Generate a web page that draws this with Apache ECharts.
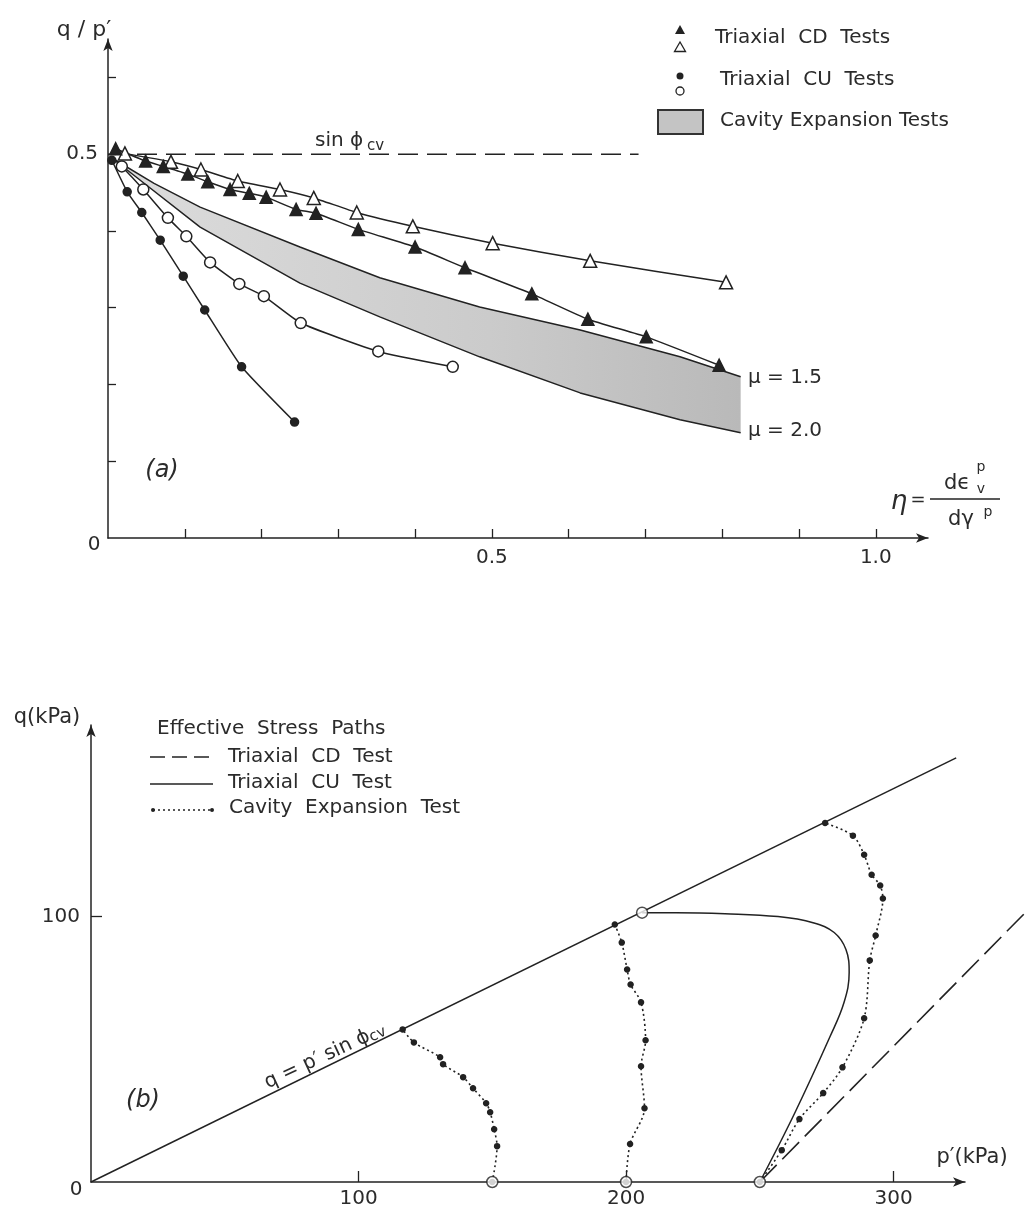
<!DOCTYPE html>
<html>
<head>
<meta charset="utf-8">
<script src="https://cdn.jsdelivr.net/npm/echarts@6/dist/echarts.min.js"></script>
<style>
html,body{margin:0;padding:0;background:#fff;}
#chart{width:1029px;height:1209px;}
</style>
</head>
<body>
<div id="chart"></div>
<script>
// ---------- (a) q/p' versus eta ----------
const cdOpen = [[0.022,0.501],[0.082,0.490],[0.121,0.480],[0.169,0.465],[0.224,0.454],[0.268,0.443],[0.324,0.424],[0.397,0.406],[0.501,0.384],[0.628,0.361],[0.805,0.333]];
const cdFilled = [[0.010,0.507],[0.049,0.491],[0.072,0.484],[0.104,0.474],[0.130,0.464],[0.159,0.454],[0.184,0.449],[0.206,0.444],[0.245,0.428],[0.271,0.423],[0.326,0.402],[0.400,0.379],[0.465,0.352],[0.552,0.318],[0.625,0.285],[0.701,0.262],[0.796,0.225]];
const cuOpenStart = [0.004,0.497];
const cuOpen = [[0.018,0.484],[0.046,0.454],[0.078,0.417],[0.102,0.393],[0.133,0.359],[0.171,0.331],[0.203,0.315],[0.251,0.280],[0.352,0.243],[0.449,0.223]];
const cuFilled = [[0.005,0.492],[0.025,0.451],[0.044,0.424],[0.068,0.388],[0.098,0.341],[0.126,0.297],[0.174,0.223],[0.243,0.151]];
const bandMu15 = [[0.005,0.495],[0.060,0.462],[0.120,0.431],[0.250,0.379],[0.354,0.339],[0.484,0.301],[0.615,0.271],[0.745,0.236],[0.824,0.210]];
const bandMu20 = [[0.005,0.495],[0.042,0.466],[0.120,0.405],[0.250,0.332],[0.354,0.288],[0.484,0.236],[0.615,0.189],[0.745,0.154],[0.824,0.137]];
const sinPhiCv = [[0,0.5],[0.691,0.5]];
const topXTicks = [0.1,0.2,0.3,0.4,0.5,0.6,0.7,0.8,0.9,1.0];
const topXLabels = [0.5,1.0];
const topYTicks = [0.1,0.2,0.3,0.4,0.5,0.6];
const topYLabels = [0.5];

// ---------- (b) effective stress paths ----------
const failureLine = [[0,0],[323.4,159.8]];
const cdPath = [[250,0],[350.7,103]];
const cuPath = [[250,0],[263.2,26.3],[276.3,54.9],[281.5,67.7],[283.4,78.9],[282.2,87.6],[277.8,94.0],[269.9,97.7],[256.8,100.0],[237.0,101.1],[218.7,101.5],[206.0,101.5]];
const cavity150 = [[150,0],[151.8,13.5],[150.7,19.9],[149.2,26.3],[147.7,29.7],[142.8,35.3],[139.1,39.5],[131.6,44.4],[130.5,47.0],[120.7,52.6],[116.5,57.5]];
const cavity200 = [[200,0],[201.5,14.3],[206.9,27.8],[205.6,43.6],[207.3,53.4],[205.6,67.7],[201.7,74.4],[200.4,80.1],[198.4,90.2],[195.8,97.0]];
const cavity250 = [[250,0],[258.2,12.0],[264.8,23.7],[273.7,33.5],[280.9,43.2],[289.0,61.7],[291.1,83.5],[293.3,92.9],[296.0,106.8],[295.0,111.7],[291.8,115.8],[289.0,123.3],[284.8,130.5],[274.4,135.3]];
const openCircles = [[150,0],[200,0],[250,0],[206.0,101.5]];
const botXTicks = [100,200,300];
const botXLabels = [100,200,300];
const botYTicks = [100];
const botYLabels = [100];

const INK = '#222';
const TXT = '#2b2b2b';
const FONT = '"DejaVu Sans", sans-serif';

const chart = echarts.init(document.getElementById('chart'), null, {renderer:'canvas'});

function axisBase(extra){
  return Object.assign({
    type:'value', min:0,
    splitLine:{show:false},
    axisLine:{show:true, onZero:false, symbol:['none','arrow'], symbolSize:[7,12], lineStyle:{color:INK, width:1.5}},
    axisTick:{show:true, inside:true, length:9, lineStyle:{color:INK, width:1.3}},
    axisLabel:{color:TXT, fontFamily:FONT, fontSize:20}
  }, extra);
}

function lineSeries(data, ax, sym, size, filled, extra){
  return Object.assign({
    type:'line', xAxisIndex:ax, yAxisIndex:ax, data:data,
    symbol:sym, symbolSize:size, showSymbol:true, smooth:0.15,
    lineStyle:{color:INK, width:1.5},
    itemStyle:{color: filled ? INK : '#fff', borderColor:INK, borderWidth:1.5},
    z:5, animation:false, silent:true
  }, extra||{});
}

const band = {
  type:'custom', xAxisIndex:0, yAxisIndex:0, data:[[0,0]], z:2, silent:true, animation:false,
  renderItem:function(params, api){
    const pts = bandMu15.map(p=>api.coord(p)).concat(bandMu20.slice().reverse().map(p=>api.coord(p)));
    return {type:'polygon', shape:{points:pts},
      style:{fill:{type:'linear',x:0,y:0,x2:1,y2:0,colorStops:[{offset:0,color:'#dcdcdc'},{offset:0.6,color:'#cbcbcb'},{offset:1,color:'#b9b9b9'}]}, stroke:null}};
  }
};

const cdDashed = {
  type:'custom', xAxisIndex:1, yAxisIndex:1, data:[[0,0]], z:4, clip:false, silent:true, animation:false,
  renderItem:function(params, api){
    return {type:'polyline', shape:{points:cdPath.map(p=>api.coord(p))},
      style:{stroke:INK, lineWidth:1.6, lineDash:[24,8], fill:null}};
  }
};

const option = {
  animation:false,
  grid:[
    {left:108, top:39, width:820, height:499},
    {left:91, top:725, width:874, height:458}
  ],
  xAxis:[
    axisBase({gridIndex:0, max:1.068,
      axisTick:{show:true, inside:true, length:9, customValues:topXTicks, lineStyle:{color:INK,width:1.3}},
      axisLabel:{color:TXT, fontFamily:FONT, fontSize:20, margin:10, customValues:topXLabels, formatter:v=>v.toFixed(1)}}),
    axisBase({gridIndex:1, max:326.7,
      axisTick:{show:true, inside:true, length:11, customValues:botXTicks, lineStyle:{color:INK,width:1.3}},
      axisLabel:{color:TXT, fontFamily:FONT, fontSize:20, margin:7, customValues:botXLabels}})
  ],
  yAxis:[
    axisBase({gridIndex:0, max:0.65,
      axisTick:{show:true, inside:true, length:8, customValues:topYTicks, lineStyle:{color:INK,width:1.3}},
      axisLabel:{color:TXT, fontFamily:FONT, fontSize:20, margin:10, customValues:topYLabels, formatter:v=>v.toFixed(1)}}),
    axisBase({gridIndex:1, max:172.2,
      axisTick:{show:true, inside:true, length:11, customValues:botYTicks, lineStyle:{color:INK,width:1.3}},
      axisLabel:{color:TXT, fontFamily:FONT, fontSize:20, margin:11, customValues:botYLabels}})
  ],
  series:[
    band,
    lineSeries(bandMu15, 0, 'none', 0, true, {smooth:false, z:3}),
    lineSeries(bandMu20, 0, 'none', 0, true, {smooth:false, z:3}),
    lineSeries(sinPhiCv, 0, 'none', 0, true, {smooth:false, lineStyle:{color:INK, width:1.5, type:[20,9]}}),
    lineSeries(cdOpen, 0, 'triangle', 13, false),
    lineSeries(cdFilled, 0, 'triangle', 12, true),
    lineSeries([{value:cuOpenStart, symbol:'none'}].concat(cuOpen), 0, 'circle', 11, false),
    lineSeries(cuFilled, 0, 'circle', 8, true),

    lineSeries(failureLine, 1, 'none', 0, true, {smooth:false}),
    cdDashed,
    lineSeries(cuPath, 1, 'none', 0, true, {smooth:0.4}),
    lineSeries(cavity150, 1, 'circle', 5, true, {smooth:0.3, lineStyle:{color:INK, width:1.6, type:[2,3]}}),
    lineSeries(cavity200, 1, 'circle', 5, true, {smooth:0.3, lineStyle:{color:INK, width:1.6, type:[2,3]}}),
    lineSeries(cavity250, 1, 'circle', 5, true, {smooth:0.3, lineStyle:{color:INK, width:1.6, type:[2,3]}}),
    {type:'scatter', xAxisIndex:1, yAxisIndex:1, data:openCircles, symbol:'circle', symbolSize:11,
     itemStyle:{color:'#fff', borderColor:INK, borderWidth:1.5}, z:8, silent:true, animation:false}
  ],
  graphic:{elements:[
    // ----- panel (a) texts -----
    {type:'text', x:84, y:30, style:{text:'q / p′', fontFamily:FONT, fontSize:22, fill:TXT, align:'center', verticalAlign:'middle'}},
    {type:'text', x:94, y:545, style:{text:'0', fontFamily:FONT, fontSize:20, fill:TXT, align:'center', verticalAlign:'middle'}},
    {type:'text', x:315, y:141, style:{text:'sin ϕ', fontFamily:FONT, fontSize:20, fill:TXT, align:'left', verticalAlign:'middle'}},
    {type:'text', x:367, y:146, style:{text:'cv', fontFamily:FONT, fontSize:15, fill:TXT, align:'left', verticalAlign:'middle'}},
    {type:'text', x:162, y:471, style:{text:'(a)', fontFamily:FONT, fontSize:24, fontStyle:'italic', fill:TXT, align:'center', verticalAlign:'middle'}},
    {type:'text', x:748, y:378, style:{text:'μ = 1.5', fontFamily:FONT, fontSize:20, fill:TXT, align:'left', verticalAlign:'middle'}},
    {type:'text', x:748, y:431, style:{text:'μ = 2.0', fontFamily:FONT, fontSize:20, fill:TXT, align:'left', verticalAlign:'middle'}},
    {type:'text', x:899, y:502, style:{text:'η', fontFamily:FONT, fontSize:26, fontStyle:'italic', fill:TXT, align:'center', verticalAlign:'middle'}},
    {type:'text', x:918, y:500, style:{text:'=', fontFamily:FONT, fontSize:18, fill:TXT, align:'center', verticalAlign:'middle'}},
    {type:'line', shape:{x1:930, y1:499, x2:1000, y2:499}, style:{stroke:INK, lineWidth:1.5}},
    {type:'text', x:957, y:484, style:{text:'dϵ', fontFamily:FONT, fontSize:21, fill:TXT, align:'center', verticalAlign:'middle'}},
    {type:'text', x:981, y:467, style:{text:'p', fontFamily:FONT, fontSize:14, fill:TXT, align:'center', verticalAlign:'middle'}},
    {type:'text', x:981, y:489, style:{text:'v', fontFamily:FONT, fontSize:14, fill:TXT, align:'center', verticalAlign:'middle'}},
    {type:'text', x:961, y:520, style:{text:'dγ', fontFamily:FONT, fontSize:21, fill:TXT, align:'center', verticalAlign:'middle'}},
    {type:'text', x:988, y:512, style:{text:'p', fontFamily:FONT, fontSize:14, fill:TXT, align:'center', verticalAlign:'middle'}},
    // legend (a)
    {type:'polygon', shape:{points:[[680,25],[675,34],[685,34]]}, style:{fill:INK}},
    {type:'polygon', shape:{points:[[680,42],[674.5,51.5],[685.5,51.5]]}, style:{fill:'#fff', stroke:INK, lineWidth:1.3}},
    {type:'text', x:715, y:38, style:{text:'Triaxial  CD  Tests', fontFamily:FONT, fontSize:20, fill:TXT, align:'left', verticalAlign:'middle'}},
    {type:'circle', shape:{cx:680, cy:76, r:3.5}, style:{fill:INK}},
    {type:'circle', shape:{cx:680, cy:91, r:4}, style:{fill:'#fff', stroke:INK, lineWidth:1.3}},
    {type:'text', x:720, y:80, style:{text:'Triaxial  CU  Tests', fontFamily:FONT, fontSize:20, fill:TXT, align:'left', verticalAlign:'middle'}},
    {type:'rect', shape:{x:658, y:110, width:45, height:24}, style:{fill:'#c4c4c4', stroke:'#333', lineWidth:2}},
    {type:'text', x:720, y:121, style:{text:'Cavity Expansion Tests', fontFamily:FONT, fontSize:20, fill:TXT, align:'left', verticalAlign:'middle'}},
    // ----- panel (b) texts -----
    {type:'text', x:47, y:718, style:{text:'q(kPa)', fontFamily:FONT, fontSize:21, fill:TXT, align:'center', verticalAlign:'middle'}},
    {type:'text', x:76, y:1190, style:{text:'0', fontFamily:FONT, fontSize:20, fill:TXT, align:'center', verticalAlign:'middle'}},
    {type:'text', x:972, y:1158, style:{text:'p′(kPa)', fontFamily:FONT, fontSize:21, fill:TXT, align:'center', verticalAlign:'middle'}},
    {type:'text', x:143, y:1101, style:{text:'(b)', fontFamily:FONT, fontSize:24, fontStyle:'italic', fill:TXT, align:'center', verticalAlign:'middle'}},
    {type:'text', x:325, y:1056, rotation:25*Math.PI/180,
      style:{text:'{a|q = p′ sin ϕ}{b|cv}', fill:TXT, align:'center', verticalAlign:'middle',
        rich:{a:{fontFamily:FONT, fontSize:20, fill:TXT}, b:{fontFamily:FONT, fontSize:15, fill:TXT, padding:[6,0,0,0]}}}},
    {type:'text', x:157, y:729, style:{text:'Effective  Stress  Paths', fontFamily:FONT, fontSize:20, fill:TXT, align:'left', verticalAlign:'middle'}},
    {type:'line', shape:{x1:150, y1:757, x2:213, y2:757}, style:{stroke:INK, lineWidth:1.5, lineDash:[15,7]}},
    {type:'text', x:228, y:757, style:{text:'Triaxial  CD  Test', fontFamily:FONT, fontSize:20, fill:TXT, align:'left', verticalAlign:'middle'}},
    {type:'line', shape:{x1:150, y1:784, x2:213, y2:784}, style:{stroke:INK, lineWidth:1.5}},
    {type:'text', x:228, y:783, style:{text:'Triaxial  CU  Test', fontFamily:FONT, fontSize:20, fill:TXT, align:'left', verticalAlign:'middle'}},
    {type:'line', shape:{x1:153, y1:810, x2:212, y2:810}, style:{stroke:INK, lineWidth:1.3, lineDash:[2,3]}},
    {type:'circle', shape:{cx:153, cy:810, r:2}, style:{fill:INK}},
    {type:'circle', shape:{cx:212, cy:810, r:2}, style:{fill:INK}},
    {type:'text', x:229, y:808, style:{text:'Cavity  Expansion  Test', fontFamily:FONT, fontSize:20, fill:TXT, align:'left', verticalAlign:'middle'}}
  ]}
};
chart.setOption(option);
</script>
</body>
</html>
